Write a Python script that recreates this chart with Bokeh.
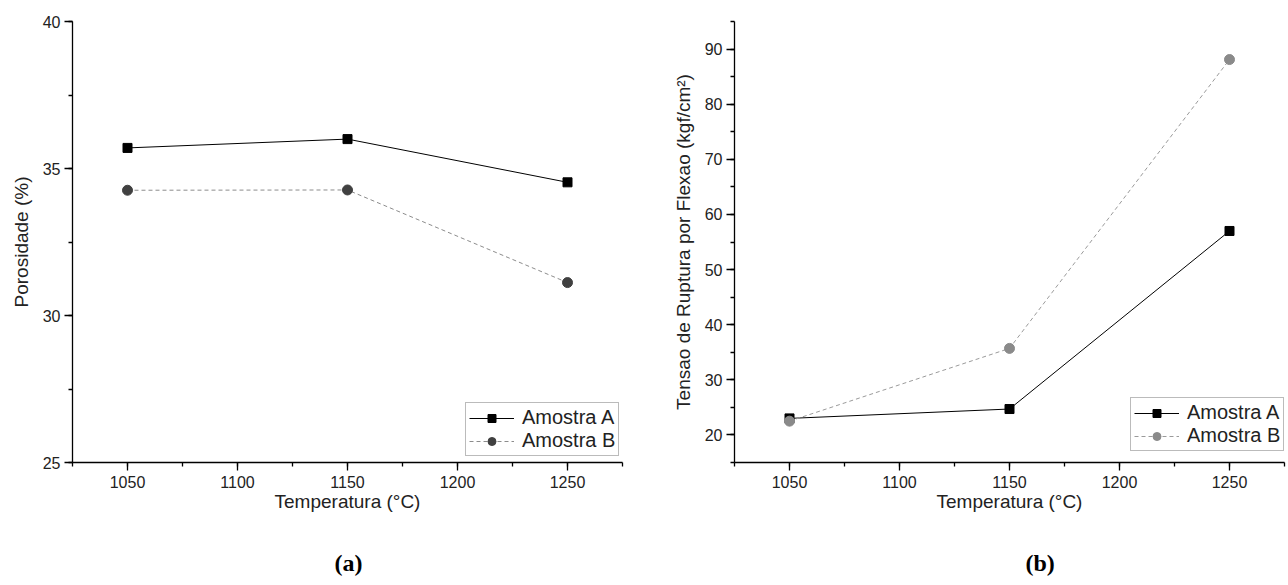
from bokeh.plotting import figure
from bokeh.layouts import row
from bokeh.models import (SingleIntervalTicker, FixedTicker, LinearAxis, Legend,
                          LegendItem, Title, Range1d)
from bokeh.embed import file_html
from bokeh.resources import INLINE

temps = [1050, 1150, 1250]
poro_a = [35.7, 36.0, 34.53]
poro_b = [34.26, 34.27, 31.12]
tens_a = [23.0, 24.7, 57.0]
tens_b = [22.5, 35.7, 88.1]

x_label = "Temperatura (°C)"
y_label_a = "Porosidade (%)"
y_label_b = "Tensao de Ruptura por Flexao (kgf/cm²)"
series_names = ["Amostra A", "Amostra B"]
panel_names = ["(a)", "(b)"]

FONT = "Liberation Sans"


def style(p, y_interval):
    p.xgrid.visible = False
    p.ygrid.visible = False
    p.outline_line_color = None
    p.background_fill_color = "white"
    p.border_fill_color = "white"
    p.xaxis.ticker = SingleIntervalTicker(interval=50, num_minor_ticks=2)
    p.yaxis.ticker = SingleIntervalTicker(interval=y_interval, num_minor_ticks=2)
    for ax in [p.xaxis[0], p.yaxis[0]]:
        ax.axis_line_color = "black"
        ax.axis_line_width = 1.3
        ax.major_tick_line_color = "black"
        ax.minor_tick_line_color = "black"
        ax.major_tick_line_width = 1.3
        ax.minor_tick_line_width = 1.3
        ax.major_tick_in = 0
        ax.major_tick_out = 8
        ax.minor_tick_in = 0
        ax.minor_tick_out = 4
        ax.major_label_text_font = FONT
        ax.major_label_text_font_size = "16px"
        ax.major_label_text_color = "#222222"
        ax.axis_label_text_font = FONT
        ax.axis_label_text_font_size = "19px"
        ax.axis_label_text_font_style = "normal"
        ax.axis_label_text_color = "#222222"
    p.xaxis.major_label_standoff = 5
    p.yaxis.major_label_standoff = 4
    p.xaxis.axis_label_standoff = 0
    p.yaxis.axis_label_standoff = 8
    # blank spacer axis below the x axis (white tick on white), so that the
    # panel caption sits lower
    spacer = LinearAxis(ticker=FixedTicker(ticks=[1150]), axis_line_color=None,
                        major_tick_line_color="white", minor_tick_line_color=None,
                        major_tick_in=0, major_tick_out=33, minor_tick_in=0,
                        minor_tick_out=0, major_label_standoff=0,
                        major_label_overrides={1150: ""},
                        major_label_text_font_size="1px")
    p.add_layout(spacer, "below")


def panel_title(text, offset):
    return Title(text=text, align="left", offset=offset, standoff=0,
                 vertical_align="bottom",
                 text_font="Liberation Serif", text_font_style="bold",
                 text_font_size="24px", text_color="black")


# ---------- panel (a) ----------
p1 = figure(width=644, height=585, output_backend="svg", toolbar_location=None,
            x_range=Range1d(1025, 1275), y_range=Range1d(25, 40),
            min_border_left=72, min_border_right=22, min_border_top=21,
            min_border_bottom=122)
style(p1, 5)
p1.xaxis[0].axis_label = x_label
p1.yaxis[0].axis_label = y_label_a

la = p1.line(temps, poro_a, line_color="black", line_width=1)
sa = p1.scatter(temps, poro_a, marker="square", size=9, fill_color="black", line_color="black")
lb = p1.line(temps, poro_b, line_color="#8c8c8c", line_width=1, line_dash="4 3")
sb = p1.scatter(temps, poro_b, marker="circle", size=10, fill_color="#404040", line_color="#404040")

leg1 = Legend(items=[LegendItem(label=series_names[0], renderers=[la, sa]),
                     LegendItem(label=series_names[1], renderers=[lb, sb])],
              location=(393, 6))
p1.add_layout(leg1)
p1.add_layout(panel_title(panel_names[0], 262), "below")

# ---------- panel (b) ----------
p2 = figure(width=644, height=585, output_backend="svg", toolbar_location=None,
            x_range=Range1d(1025, 1275), y_range=Range1d(15, 95),
            min_border_left=90, min_border_right=4, min_border_top=10,
            min_border_bottom=123)
style(p2, 10)
p2.xaxis[0].axis_label = x_label
p2.yaxis[0].axis_label = y_label_b

la2 = p2.line(temps, tens_a, line_color="black", line_width=1)
sa2 = p2.scatter(temps, tens_a, marker="square", size=9, fill_color="black", line_color="black")
lb2 = p2.line(temps, tens_b, line_color="#9a9a9a", line_width=1, line_dash="4 3")
sb2 = p2.scatter(temps, tens_b, marker="circle", size=10, fill_color="#8a8a8a", line_color="#8a8a8a")

leg2 = Legend(items=[LegendItem(label=series_names[0], renderers=[la2, sa2]),
                     LegendItem(label=series_names[1], renderers=[lb2, sb2])],
              location=(396, 11))
p2.add_layout(leg2)
p2.add_layout(panel_title(panel_names[1], 291), "below")

for leg in [leg1, leg2]:
    leg.label_text_font = FONT
    leg.label_text_font_size = "20px"
    leg.label_text_color = "#222222"
    leg.border_line_color = "#777777"
    leg.border_line_width = 1
    leg.background_fill_color = "white"
    leg.background_fill_alpha = 1
    leg.glyph_width = 45
    leg.glyph_height = 20
    leg.label_height = 20
    leg.label_standoff = 8
    leg.spacing = 0
    leg.padding = 3
    leg.margin = 0

layout = row(p1, p2)
open("out.html", "w").write(file_html(layout, INLINE))
